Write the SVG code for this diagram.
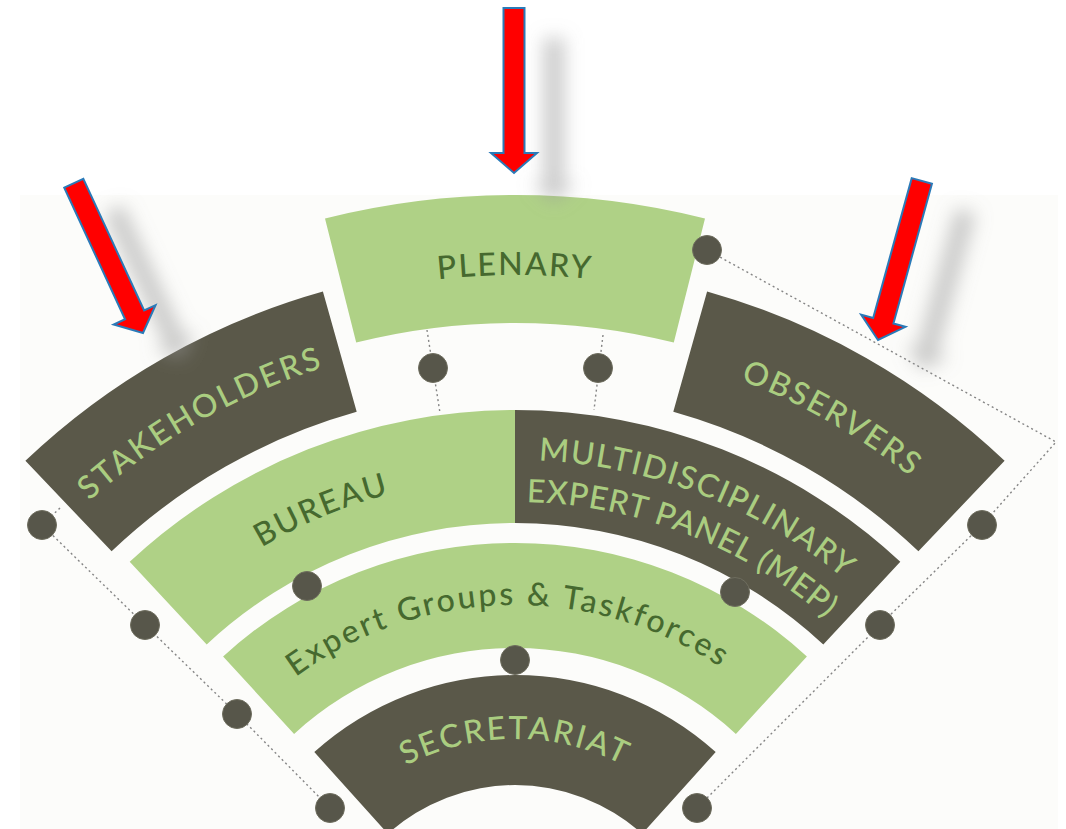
<svg xmlns="http://www.w3.org/2000/svg" xmlns:xlink="http://www.w3.org/1999/xlink" width="1066" height="829" viewBox="0 0 1066 829">
<style>
.dark{fill:#5a5849}
.light{fill:#afd186}
.t{font-family:Lato,"Open Sans","Liberation Sans",sans-serif;font-size:32px;font-weight:500}
.td{fill:#aacd80}
.tl{fill:#46692f}
.dot{fill:#57564a;stroke:#6e6d5e;stroke-width:1}
.dl{fill:none;stroke:#858585;stroke-width:1.4;stroke-dasharray:2 3}
.arr{fill:#ff0000;stroke:#2a7ab8;stroke-width:2;stroke-linejoin:miter}
.sh{fill:#9a9a9a;opacity:0.5}
</style>
<defs>
<filter id="blur" x="-150%" y="-50%" width="400%" height="200%"><feGaussianBlur stdDeviation="9"/></filter>
<polygon id="arrowShape" points="-10.5,-165 10.5,-165 10.5,-20 23,-20 0,0 -23,-20 -10.5,-20"/>
<path id="pPlen" d="M345.7,295.8 A700,700 0 0 1 684.3,295.8"/>
<path id="pStake" d="M75.7,513.7 A637,637 0 0 1 342.6,361.8"/>
<path id="pObs" d="M687.1,362.7 A636,636 0 0 1 953.6,514.4"/>
<path id="pBur" d="M195.5,594.3 A497,497 0 0 1 470,480"/>
<path id="pMep1" d="M538.4,460.5 A515,515 0 0 1 879.2,610.8"/>
<path id="pMep2" d="M526.6,502.1 A473,473 0 0 1 849.5,640.5"/>
<path id="pExp" d="M277.2,691.6 A370,370 0 0 1 740.7,681.8"/>
<path id="pSec" d="M363.3,794.2 A236,236 0 0 1 666.7,794.2"/>
</defs>
<rect width="1066" height="829" fill="#ffffff"/>
<rect x="20" y="195" width="1038" height="634" fill="#fcfcfa"/>

<g id="plenary">
<path class="light" d="M325,218.5 A780,780 0 0 1 705,218.5 L673.8,342.6 A652,652 0 0 0 356.2,342.6 Z"/>
<text class="t tl" letter-spacing="2"><textPath href="#pPlen" startOffset="50%" text-anchor="middle">PLENARY</textPath></text>
</g>
<g id="stakeholders">
<path class="dark" d="M25.4,460.8 A710,710 0 0 1 322.9,291.5 L356.7,411.8 A585,585 0 0 0 111.6,551.3 Z"/>
<text class="t td" font-size="33" letter-spacing="2.5"><textPath href="#pStake" startOffset="50%" text-anchor="middle">STAKEHOLDERS</textPath></text>
</g>
<g id="observers">
<path class="dark" d="M707.1,291.5 A710,710 0 0 1 1004.6,460.8 L918.4,551.3 A585,585 0 0 0 673.3,411.8 Z"/>
<text class="t td" font-size="33" letter-spacing="2"><textPath href="#pObs" startOffset="50%" text-anchor="middle">OBSERVERS</textPath></text>
</g>
<g id="bureau">
<path class="light" d="M129.7,561.8 A565,565 0 0 1 515,410 L515,523 A452,452 0 0 0 206.7,644.4 Z"/>
<text class="t tl" font-size="33" letter-spacing="2"><textPath href="#pBur" startOffset="50%" text-anchor="middle">BUREAU</textPath></text>
</g>
<g id="mep">
<path class="dark" d="M515,410 A565,565 0 0 1 900.3,561.8 L823.3,644.4 A452,452 0 0 0 515,523 Z"/>
<text class="t td" font-size="30" letter-spacing="1.6"><textPath href="#pMep1">MULTIDISCIPLINARY</textPath></text>
<text class="t td" font-size="30" letter-spacing="0.8"><textPath href="#pMep2">EXPERT PANEL (MEP)</textPath></text>
</g>
<g id="expert-groups">
<path class="light" d="M223.1,656.5 A432,432 0 0 1 806.9,656.5 L735.9,733.9 A327,327 0 0 0 294.1,733.9 Z"/>
<text class="t tl" font-size="33" letter-spacing="2.5"><textPath href="#pExp" startOffset="50%" text-anchor="middle">Expert Groups &amp; Taskforces</textPath></text>
</g>
<g id="secretariat">
<path class="dark" d="M314.3,752.1 A300,300 0 0 1 715.7,752.1 L642.1,833.8 A190,190 0 0 0 387.9,833.8 Z"/>
<text class="t td" font-size="31" letter-spacing="2.3"><textPath href="#pSec" startOffset="50%" text-anchor="middle">SECRETARIAT</textPath></text>
</g>

<g id="connectors">
<polyline class="dl" points="707,250 1056,442 982,525 880,625 697,808"/>
<polyline class="dl" points="60,508 42,525 145,625 237,714 330,808"/>
<line class="dl" x1="427" y1="330" x2="440" y2="413"/>
<line class="dl" x1="603" y1="335" x2="594" y2="410"/>
<circle class="dot" cx="707" cy="250" r="14.5"/>
<circle class="dot" cx="433" cy="368" r="14.5"/>
<circle class="dot" cx="598" cy="368" r="14.5"/>
<circle class="dot" cx="42" cy="525" r="14.5"/>
<circle class="dot" cx="145" cy="625" r="14.5"/>
<circle class="dot" cx="237" cy="714" r="14.5"/>
<circle class="dot" cx="330" cy="808" r="14.5"/>
<circle class="dot" cx="982" cy="525" r="14.5"/>
<circle class="dot" cx="880" cy="625" r="14.5"/>
<circle class="dot" cx="697" cy="808" r="14.5"/>
<circle class="dot" cx="307" cy="586" r="14.5"/>
<circle class="dot" cx="735" cy="592" r="14.5"/>
<circle class="dot" cx="515" cy="660" r="14.5"/>
</g>

<g id="arrow-top">
<g transform="translate(40,30)" filter="url(#blur)"><use href="#arrowShape" class="sh" transform="translate(514,173)"/></g>
<use href="#arrowShape" class="arr" transform="translate(514,173)"/>
</g>
<g id="arrow-left">
<g transform="translate(40,26)" filter="url(#blur)"><use href="#arrowShape" class="sh" transform="translate(143,333) rotate(-24.8)"/></g>
<use href="#arrowShape" class="arr" transform="translate(143,333) rotate(-24.8)"/>
</g>
<g id="arrow-right">
<g transform="translate(44,30)" filter="url(#blur)"><use href="#arrowShape" class="sh" transform="translate(878,340) rotate(15.4)"/></g>
<use href="#arrowShape" class="arr" transform="translate(878,340) rotate(15.4)"/>
</g>
</svg>
